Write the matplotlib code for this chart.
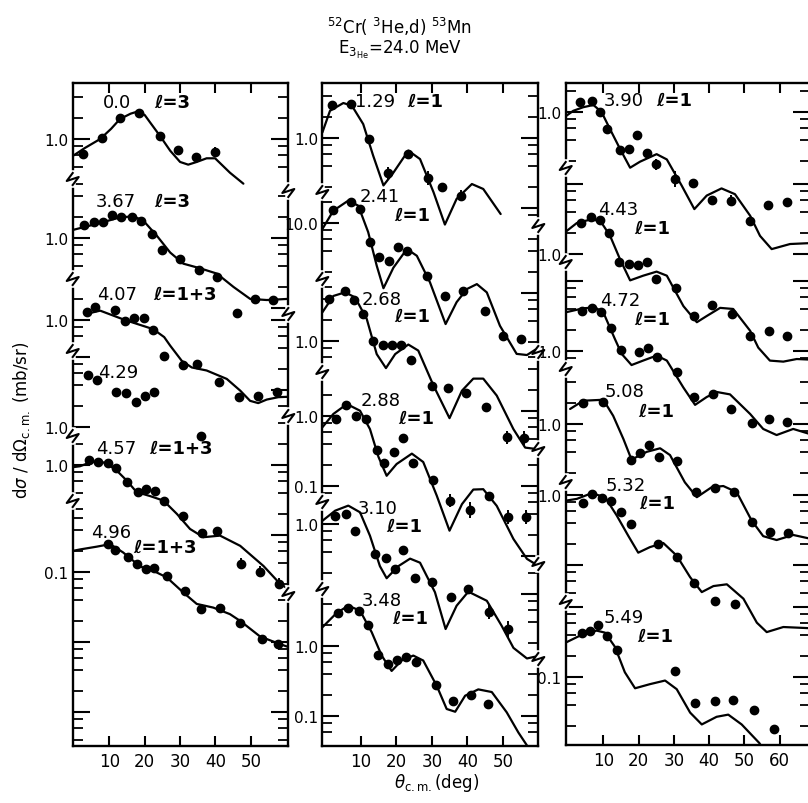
import numpy as np
import matplotlib
matplotlib.use("Agg")
import matplotlib.pyplot as plt
from matplotlib.lines import Line2D
from matplotlib.ticker import NullFormatter

plt.rcParams['font.family'] = ['DejaVu Sans']
plt.rcParams['mathtext.fontset'] = 'dejavusans'

# ------------------------------------------------------------------ data
# left column
e000_x = [2.6, 7.8, 13.0, 18.5, 24.3, 29.3, 34.5, 39.9]
e000_y = [0.61, 1.02, 1.98, 2.33, 1.09, 0.70, 0.55, 0.66]
e000_err = [0.15, 0.12, 0, 0.1, 0, 0.15, 0.15, 0.15]
e000_tx = [-0.4, 3.0, 7.4, 10.5, 13.0, 16.0, 18.2, 20.0, 21.5, 24.3, 27.2, 30.0, 32.3, 34.7, 37.5, 39.9, 44.1, 47.9]
e000_ty = [0.57, 0.74, 1.0, 1.4, 1.93, 2.3, 2.49, 2.2, 1.73, 1.11, 0.68, 0.47, 0.43, 0.47, 0.53, 0.53, 0.33, 0.23]

e367_x = [2.9, 5.7, 8.3, 10.7, 13.3, 16.3, 19.0, 22.0, 24.8, 30.0, 35.4, 40.4, 46.2, 51.2, 56.4]
e367_y = [1.53, 1.71, 1.71, 2.15, 2.02, 2.02, 1.77, 1.14, 0.67, 0.50, 0.35, 0.28, 0.084, 0.135, 0.13]
e367_tx = [-0.4, 7.4, 13.0, 16.8, 19.6, 23.4, 27.2, 30.9, 35.6, 40.4, 45.1, 49.8, 54.5, 60.6]
e367_ty = [1.30, 1.64, 1.97, 2.04, 1.77, 1.08, 0.62, 0.43, 0.37, 0.31, 0.20, 0.135, 0.13, 0.135]

e407_x = [3.8, 5.9, 11.6, 14.4, 17.1, 19.9, 22.3, 25.5, 30.7, 34.7, 41.1, 46.6, 52.1, 57.3]
e407_y = [1.31, 1.55, 1.40, 0.96, 1.06, 1.06, 0.73, 0.31, 0.23, 0.235, 0.13, 0.079, 0.083, 0.095]
e407_tx = [4.3, 7.4, 14.4, 22.4, 25.5, 27.2, 30.5, 33.3, 37.5, 43.2, 47.0, 49.8, 52.1, 54.5, 57.8, 60.6]
e407_ty = [1.25, 1.36, 1.0, 0.74, 0.57, 0.43, 0.26, 0.21, 0.19, 0.144, 0.098, 0.070, 0.065, 0.073, 0.079, 0.08]

e429_x = [4.0, 6.4, 11.9, 14.7, 17.5, 20.1, 22.6, 35.9]
e429_y = [5.5, 4.7, 3.2, 3.1, 2.3, 2.75, 3.2, 0.75]

e457_x = [4.3, 6.9, 9.7, 11.9, 15.1, 18.0, 20.4, 22.9, 25.5, 30.7, 36.1, 40.5, 47.2, 52.6, 58.1]
e457_y = [1.18, 1.09, 1.06, 0.90, 0.58, 0.41, 0.46, 0.42, 0.31, 0.185, 0.107, 0.113, 0.039, 0.030, 0.020]
e457_err = [0, 0, 0, 0, 0, 0, 0, 0, 0, 0, 0, 0, 0.2, 0.2, 0.2]
e457_tx = [-0.4, 1.7, 5.0, 8.3, 11.6, 14.9, 17.7, 21.5, 25.3, 29.1, 32.8, 36.6, 41.3, 47.0, 53.6, 58.3, 60.6]
e457_ty = [0.93, 0.96, 1.11, 1.09, 0.88, 0.60, 0.41, 0.36, 0.31, 0.20, 0.122, 0.093, 0.098, 0.070, 0.036, 0.020, 0.017]

e496_x = [9.7, 11.6, 15.4, 17.7, 20.4, 22.7, 26.2, 31.4, 35.9, 41.3, 47.0, 53.3, 57.8]
e496_y = [0.25, 0.206, 0.166, 0.13, 0.11, 0.113, 0.088, 0.054, 0.030, 0.031, 0.0185, 0.011, 0.0093]
e496_tx = [-0.4, 1.7, 6.4, 10.2, 13.9, 18.7, 22.4, 26.2, 30.9, 34.7, 39.4, 44.1, 47.0, 52.6, 58.3, 60.6]
e496_ty = [0.20, 0.21, 0.23, 0.25, 0.19, 0.12, 0.104, 0.084, 0.051, 0.035, 0.031, 0.025, 0.020, 0.012, 0.0093, 0.0085]

# middle column
e129_x = [1.8, 7.2, 12.4, 17.8, 23.4, 28.9, 33.0, 38.3]
e129_y = [2.96, 3.1, 0.97, 0.316, 0.59, 0.27, 0.20, 0.15]
e129_err = [0, 0, 0, 0.2, 0.15, 0.25, 0, 0.2]
e129_tx = [-0.8, 1.35, 5.1, 7.5, 10.7, 13.5, 16.4, 19.2, 23.4, 26.7, 30.5, 33.7, 37.0, 41.3, 44.5, 49.4]
e129_ty = [1.2, 2.45, 3.16, 2.9, 1.58, 0.56, 0.21, 0.32, 0.66, 0.5, 0.168, 0.058, 0.135, 0.22, 0.187, 0.082]

e241_x = [2.1, 7.2, 9.8, 12.6, 15.2, 18.0, 20.6, 23.1, 28.6, 33.7, 38.9, 45.0, 50.0, 55.1]
e241_y = [15.5, 19.8, 15.8, 5.4, 3.3, 2.9, 4.5, 4.0, 1.77, 0.90, 1.08, 0.55, 0.245, 0.22]
e241_tx = [-0.8, 2.3, 6.5, 9.3, 12.1, 14.5, 16.4, 19.2, 23.0, 25.8, 29.5, 33.9, 37.0, 39.9, 42.7, 45.5, 49.2, 53.9, 56.8, 59.6]
e241_ty = [8.2, 15.0, 20.9, 17.7, 7.4, 2.46, 1.17, 2.3, 4.25, 3.4, 1.42, 0.36, 0.74, 1.14, 1.34, 1.02, 0.34, 0.135, 0.13, 0.16]

e268_x = [1.0, 5.6, 8.1, 10.7, 13.4, 16.2, 18.7, 21.4, 24.2, 30.0, 34.5, 39.7, 45.3, 51.1, 56.1]
e268_y = [4.0, 5.1, 3.8, 2.4, 1.0, 0.88, 0.88, 0.88, 0.54, 0.23, 0.21, 0.18, 0.113, 0.042, 0.041]
e268_err = [0, 0, 0, 0, 0, 0, 0, 0, 0, 0, 0, 0, 0, 0.25, 0.25]
e268_tx = [-0.8, 2.3, 5.6, 8.4, 11.7, 14.5, 17.1, 19.7, 23.4, 26.2, 30.5, 35.0, 38.5, 41.7, 44.5, 48.3, 53.0, 56.3, 58.6]
e268_ty = [2.57, 4.4, 4.96, 4.2, 2.06, 0.65, 0.41, 0.65, 0.89, 0.73, 0.23, 0.079, 0.195, 0.29, 0.29, 0.166, 0.055, 0.030, 0.029]

e288_x = [3.0, 5.8, 8.7, 11.4, 14.5, 16.6, 19.5, 22.0, 24.6, 30.3, 35.2, 40.8, 46.2, 51.6, 56.6]
e288_y = [0.91, 1.44, 1.01, 0.91, 0.33, 0.21, 0.31, 0.48, 0.21, 0.12, 0.062, 0.045, 0.071, 0.036, 0.036]
e288_err = [0, 0, 0, 0, 0, 0, 0, 0, 0, 0, 0.25, 0.3, 0, 0.25, 0.25]
e288_tx = [-0.8, 2.3, 6.1, 9.8, 12.6, 15.0, 17.3, 20.1, 24.4, 27.6, 31.4, 35.0, 38.5, 41.7, 44.5, 48.3, 53.0, 56.8, 59.1]
e288_ty = [0.69, 1.07, 1.48, 1.19, 0.65, 0.26, 0.14, 0.206, 0.29, 0.22, 0.073, 0.023, 0.055, 0.089, 0.09, 0.052, 0.0175, 0.0091, 0.0077]

e310_x = [2.8, 5.8, 8.4, 14.0, 17.1, 19.7, 22.0, 25.3, 30.0, 35.4, 40.3, 46.1, 51.4]
e310_y = [1.31, 1.39, 0.80, 0.37, 0.33, 0.23, 0.42, 0.17, 0.15, 0.09, 0.118, 0.055, 0.032]
e310_err = [0, 0, 0, 0, 0, 0, 0, 0, 0, 0, 0, 0.25, 0.3]
e310_tx = [-0.8, 2.8, 6.5, 9.8, 12.6, 15.4, 17.3, 20.6, 23.9, 26.7, 30.9, 33.9, 37.0, 40.3, 45.5, 49.7, 53.0, 56.8, 60.0]
e310_ty = [1.11, 1.55, 1.83, 1.47, 0.68, 0.25, 0.168, 0.25, 0.32, 0.28, 0.106, 0.0316, 0.068, 0.108, 0.08, 0.035, 0.017, 0.012, 0.013]

e348_x = [3.7, 6.5, 9.6, 12.1, 15.0, 17.8, 20.1, 22.7, 25.5, 31.2, 36.1, 41.1, 45.8]
e348_y = [2.93, 3.49, 3.19, 2.02, 0.75, 0.55, 0.63, 0.69, 0.60, 0.28, 0.166, 0.20, 0.148]
e348_tx = [-0.8, 3.2, 6.5, 9.8, 13.1, 15.9, 18.7, 21.5, 24.8, 27.6, 31.4, 34.2, 36.6, 39.4, 43.1, 46.9, 51.1, 54.4, 56.8, 58.0]
e348_ty = [1.85, 2.96, 3.76, 3.2, 1.57, 0.73, 0.44, 0.62, 0.73, 0.62, 0.27, 0.126, 0.115, 0.195, 0.24, 0.22, 0.113, 0.058, 0.038, 0.030]

# right column
e390_x = [3.4, 6.7, 9.1, 11.1, 14.7, 17.3, 19.6, 22.3, 24.9, 30.3, 35.3, 40.7, 46.2, 51.6, 56.7, 62.0]
e390_y = [1.38, 1.45, 1.0, 0.58, 0.29, 0.30, 0.47, 0.26, 0.18, 0.11, 0.097, 0.055, 0.054, 0.028, 0.047, 0.052]
e390_err = [0, 0, 0, 0, 0, 0, 0, 0, 0.2, 0.3, 0, 0, 0.2, 0, 0.15, 0.15]
e390_tx = [-0.65, 1.5, 4.3, 7.2, 9.5, 11.9, 14.7, 17.6, 20.4, 25.1, 28.0, 32.2, 35.8, 39.3, 43.5, 47.3, 51.6, 54.4, 57.7, 62.9, 68.6]
e390_ty = [0.87, 1.04, 1.17, 1.26, 1.0, 0.57, 0.30, 0.16, 0.195, 0.25, 0.21, 0.089, 0.041, 0.064, 0.081, 0.067, 0.033, 0.017, 0.011, 0.013, 0.0134]

e443_x = [3.6, 6.4, 9.1, 11.7, 14.5, 17.3, 19.7, 22.3, 24.9, 30.6, 35.8, 40.9, 46.4, 51.6, 57.0, 62.1]
e443_y = [2.74, 3.34, 3.06, 2.0, 0.78, 0.72, 0.70, 0.76, 0.44, 0.33, 0.13, 0.187, 0.14, 0.068, 0.08, 0.068]
e443_tx = [-0.65, 2.5, 6.2, 9.1, 11.9, 14.7, 17.6, 21.3, 25.1, 28.0, 32.7, 36.5, 39.3, 43.1, 46.8, 51.6, 53.9, 57.2, 61.0, 64.8, 68.6]
e443_ty = [2.08, 2.77, 3.09, 3.0, 1.83, 0.85, 0.42, 0.49, 0.56, 0.49, 0.18, 0.106, 0.13, 0.17, 0.164, 0.08, 0.046, 0.03, 0.029, 0.0316, 0.031]

e472_x = [4.1, 6.7, 9.3, 12.1, 14.9, 20.1, 22.6, 25.3, 30.8, 35.7, 41.2, 46.2, 52.0, 57.0, 62.1]
e472_y = [3.76, 4.07, 3.57, 2.11, 1.04, 0.96, 1.10, 0.81, 0.50, 0.22, 0.24, 0.15, 0.094, 0.107, 0.096]
e472_tx = [-0.65, 4.3, 7.6, 10.0, 13.3, 15.2, 18.0, 21.3, 25.1, 28.0, 32.7, 36.0, 39.3, 42.1, 45.9, 51.6, 55.3, 59.1, 63.8, 68.6]
e472_ty = [3.57, 4.07, 4.2, 3.57, 1.48, 0.91, 0.63, 0.73, 0.86, 0.73, 0.30, 0.17, 0.22, 0.26, 0.24, 0.126, 0.077, 0.063, 0.077, 0.065]

e508_x = [4.2, 9.8, 17.8, 20.4, 22.9, 25.8, 30.8, 36.2, 41.6, 47.1, 52.0, 57.2, 62.4]
e508_y = [2.0, 2.04, 0.31, 0.38, 0.50, 0.34, 0.30, 0.106, 0.12, 0.106, 0.040, 0.029, 0.028]
e508_tx = [0.6, 4.3, 10.0, 12.8, 15.7, 18.0, 22.3, 26.1, 28.9, 33.1, 36.5, 40.7, 44.0, 47.8, 52.0, 55.3, 59.1, 63.8, 68.6]
e508_ty = [1.64, 2.15, 2.22, 1.31, 0.61, 0.31, 0.40, 0.45, 0.36, 0.147, 0.09, 0.125, 0.13, 0.106, 0.042, 0.025, 0.022, 0.026, 0.023]

e532_x = [4.2, 6.9, 9.5, 12.2, 15.0, 17.8, 25.6, 31.0, 35.8, 41.6, 47.3]
e532_y = [0.77, 1.03, 0.90, 0.83, 0.57, 0.39, 0.20, 0.128, 0.056, 0.031, 0.028]
e532_tx = [-0.65, 2.5, 6.7, 10.5, 13.8, 17.1, 19.9, 23.2, 27.0, 30.8, 34.6, 37.9, 41.2, 45.0, 49.7, 53.5, 56.3, 61.0, 68.6]
e532_ty = [0.83, 0.88, 1.06, 0.93, 0.51, 0.26, 0.15, 0.18, 0.206, 0.136, 0.067, 0.041, 0.05, 0.053, 0.033, 0.015, 0.011, 0.013, 0.0125]

e549_x = [3.9, 6.2, 8.6, 11.0, 14.0, 30.3, 36.0, 41.6, 46.8, 52.7, 58.4]
e549_y = [0.42, 0.45, 0.55, 0.38, 0.245, 0.123, 0.042, 0.046, 0.047, 0.034, 0.018]
e549_tx = [-0.65, 3.4, 8.1, 10.5, 13.3, 16.1, 19.0, 23.2, 27.5, 30.8, 34.6, 37.9, 42.1, 45.4, 49.2, 54.2, 55.5]
e549_ty = [0.31, 0.39, 0.46, 0.43, 0.27, 0.117, 0.069, 0.079, 0.089, 0.067, 0.031, 0.021, 0.027, 0.029, 0.021, 0.0114, 0.009]

x_ticks_lr = [10, 20, 30, 40, 50]
x_ticks_r = [10, 20, 30, 40, 50, 60]

# ------------------------------------------------------------------ layout
W, H = 808, 804
DEC = 70.0  # pixels per decade

panels = [
    dict(x0=72.7, x1=288.3, top=84, bot=747, xlim=(-0.37, 60.6), xt=x_ticks_lr),
    dict(x0=322.3, x1=538.3, top=84, bot=747, xlim=(-0.82, 60.0), xt=x_ticks_lr),
    dict(x0=565.7, x1=810.0, top=84, bot=746, xlim=(-0.65, 68.56), xt=x_ticks_r),
]

def C(panel, name, ell, x, y, tx, ty, err, ref, rpx, bl, br, labs, npos, epos):
    return dict(panel=panel, name=name, ell=ell, x=x, y=y, tx=tx, ty=ty, err=err,
                ref=ref, rpx=rpx, bl=bl, br=br, labs=labs, npos=npos, epos=epos)

curves = [
    C(0, "0.0", "ℓ=3", e000_x, e000_y, e000_tx, e000_ty, e000_err, 1.0, 140, (84, 180), (84, 192), [1.0], (117, 103), (172, 103)),
    C(0, "3.67", "ℓ=3", e367_x, e367_y, e367_tx, e367_ty, None, 1.0, 239, (180, 280), (192, 315), [1.0], (116, 202), (172, 202)),
    C(0, "4.07", "ℓ=1+3", e407_x, e407_y, e407_tx, e407_ty, None, 1.0, 321, (280, 352), (315, 417), [1.0], (117, 295), (185, 295)),
    C(0, "4.29", None, e429_x, e429_y, None, None, None, 1.0, 428, (352, 437), None, [1.0], (118, 373), None),
    C(0, "4.57", "ℓ=1+3", e457_x, e457_y, e457_tx, e457_ty, e457_err, 1.0, 466, (437, 502), (417, 595), [1.0], (116, 449), (181, 449)),
    C(0, "4.96", "ℓ=1+3", e496_x, e496_y, e496_tx, e496_ty, None, 0.1, 573, (502, 747), (595, 747), [0.1], (111, 533), (165, 548)),
    C(1, "1.29", "ℓ=1", e129_x, e129_y, e129_tx, e129_ty, e129_err, 1.0, 139, (84, 193), (84, 227), [1.0], (375, 102), (425, 102)),
    C(1, "2.41", "ℓ=1", e241_x, e241_y, e241_tx, e241_ty, None, 10.0, 224, (193, 280), (227, 353), [10.0], (380, 197), (412, 216)),
    C(1, "2.68", "ℓ=1", e268_x, e268_y, e268_tx, e268_ty, e268_err, 1.0, 342, (280, 373), (353, 450), [1.0], (382, 300), (412, 317)),
    C(1, "2.88", "ℓ=1", e288_x, e288_y, e288_tx, e288_ty, e288_err, 1.0, 417, (373, 503), (450, 565), [1.0, 0.1], (381, 401), (416, 419)),
    C(1, "3.10", "ℓ=1", e310_x, e310_y, e310_tx, e310_ty, e310_err, 1.0, 525, (503, 590), (565, 660), [1.0], (378, 509), (404, 527)),
    C(1, "3.48", "ℓ=1", e348_x, e348_y, e348_tx, e348_ty, None, 1.0, 647, (590, 747), (660, 747), [1.0, 0.1], (382, 601), (410, 619)),
    C(2, "3.90", "ℓ=1", e390_x, e390_y, e390_tx, e390_ty, e390_err, 1.0, 113, (84, 169), (84, 169), [1.0], (624, 101), (674, 101)),
    C(2, "4.43", "ℓ=1", e443_x, e443_y, e443_tx, e443_ty, None, 1.0, 255, (169, 263), (169, 263), [1.0], (618, 210), (652, 229)),
    C(2, "4.72", "ℓ=1", e472_x, e472_y, e472_tx, e472_ty, None, 1.0, 352, (263, 370), (263, 370), [1.0], (620, 301), (652, 320)),
    C(2, "5.08", "ℓ=1", e508_x, e508_y, e508_tx, e508_ty, None, 1.0, 425, (370, 483), (370, 483), [1.0], (624, 392), (656, 412)),
    C(2, "5.32", "ℓ=1", e532_x, e532_y, e532_tx, e532_ty, None, 1.0, 496, (483, 603), (483, 603), [1.0], (626, 486), (657, 504)),
    C(2, "5.49", "ℓ=1", e549_x, e549_y, e549_tx, e549_ty, None, 0.1, 678, (603, 746), (603, 746), [0.1], (624, 618), (655, 637)),
]

LW = 1.5
fig = plt.figure(figsize=(W / 100, H / 100), dpi=100)
fig.patch.set_facecolor('white')


def fx(px):
    return px / W


def fy(py):
    return 1 - py / H


def rect(p):
    return [fx(p['x0']), fy(p['bot']), (p['x1'] - p['x0']) / W, (p['bot'] - p['top']) / H]


def band_ticks(ref, rpx, band, margin=4):
    lo = ref * 10 ** ((rpx - (band[1] - margin)) / DEC)
    hi = ref * 10 ** ((rpx - (band[0] + margin)) / DEC)
    majors = [10.0 ** k for k in range(-4, 3) if lo <= 10.0 ** k <= hi]
    minors = [m * 10.0 ** k for k in range(-4, 3) for m in (2, 4, 6, 8)
              if lo <= m * 10.0 ** k <= hi]
    return majors, minors


def fmt(v):
    return {10.0: "10.0", 1.0: "1.0", 0.1: "0.1"}.get(v, "")


# frames
frames = []
for p in panels:
    fr = fig.add_axes(rect(p))
    fr.set_xlim(p['xlim'])
    fr.set_ylim(0, 1)
    fr.set_yticks([])
    fr.set_xticks(p['xt'])
    fr.set_xticklabels([str(t) for t in p['xt']])
    fr.tick_params(axis='x', direction='in', length=7, width=LW, top=True,
                   labelsize=12, pad=4)
    for s in fr.spines.values():
        s.set_linewidth(1.7)
    frames.append(fr)

# curves
for c in curves:
    p = panels[c['panel']]
    ax = fig.add_axes(rect(p))
    ax.set_xlim(p['xlim'])
    ax.set_yscale('log')
    ytop = c['ref'] * 10 ** ((c['rpx'] - p['top']) / DEC)
    ybot = c['ref'] * 10 ** ((c['rpx'] - p['bot']) / DEC)
    ax.set_ylim(ybot, ytop)
    ax.patch.set_visible(False)
    for s in ax.spines.values():
        s.set_visible(False)
    ax.xaxis.set_visible(False)

    maj, mnr = band_ticks(c['ref'], c['rpx'], c['bl'])
    ax.set_yticks(maj, labels=[fmt(v) if v in c['labs'] else "" for v in maj])
    ax.set_yticks(mnr, minor=True)
    ax.yaxis.set_minor_formatter(NullFormatter())
    ax.tick_params(axis='y', which='major', direction='in', length=12, width=LW,
                   labelsize=11, pad=3, left=True, right=False)
    ax.tick_params(axis='y', which='minor', direction='in', length=7, width=1.3,
                   left=True, right=False)

    if c['br'] is not None:
        tw = ax.twinx()
        tw.set_yscale('log')
        tw.set_ylim(ybot, ytop)
        tw.patch.set_visible(False)
        for s in tw.spines.values():
            s.set_visible(False)
        maj, mnr = band_ticks(c['ref'], c['rpx'], c['br'])
        tw.set_yticks(maj, labels=["" for v in maj])
        tw.set_yticks(mnr, minor=True)
        tw.yaxis.set_minor_formatter(NullFormatter())
        tw.tick_params(axis='y', which='major', direction='in', length=12, width=LW)
        tw.tick_params(axis='y', which='minor', direction='in', length=7, width=1.3)

    if c['tx'] is not None:
        ax.plot(c['tx'], c['ty'], color='black', lw=1.6, solid_joinstyle='round',
                solid_capstyle='round')
    x = np.array(c['x'])
    y = np.array(c['y'])
    if c['err'] is not None:
        e = np.array(c['err'])
        yerr = np.vstack([y * e / (1 + e), y * e])
        ax.errorbar(x, y, yerr=yerr, fmt='none', ecolor='black', elinewidth=1.4,
                    capsize=0, clip_on=False)
    ax.plot(x, y, 'o', color='black', ms=6.0, clip_on=False)

    fig.text(fx(c['npos'][0]), fy(c['npos'][1]), c['name'], ha='center', va='center',
             fontsize=13)
    if c['ell'] is not None:
        fig.text(fx(c['epos'][0]), fy(c['epos'][1]), c['ell'], ha='center', va='center',
                 fontsize=13, fontweight='bold')

# axis breaks (zig-zags) on the spines
def zig(xp, yp):
    fig.add_artist(Line2D([fx(xp), fx(xp)], [fy(yp - 6), fy(yp + 6)],
                          transform=fig.transFigure, color='white', lw=4, zorder=5))
    fig.add_artist(Line2D([fx(xp), fx(xp - 6), fx(xp + 6), fx(xp)],
                          [fy(yp - 6), fy(yp + 2), fy(yp - 2), fy(yp + 6)],
                          transform=fig.transFigure, color='black', lw=1.5, zorder=6))

for c in curves:
    p = panels[c['panel']]
    if c['bl'][0] > p['top']:
        zig(p['x0'], c['bl'][0])
    if c['br'] is not None and c['br'][0] > p['top'] and p['x1'] < W:
        zig(p['x1'], c['br'][0])

# titles and axis labels
fig.text(fx(400), fy(27), r"$^{52}$Cr( $^{3}$He,d) $^{53}$Mn", ha='center', va='center',
         fontsize=12)
fig.text(fx(400), fy(50), r"E$_{3_{\mathrm{He}}}$=24.0 MeV", ha='center', va='center',
         fontsize=12)
fig.text(fx(437), fy(783), r"$\theta_{\mathrm{c.m.}}$(deg)", ha='center', va='center',
         fontsize=12)
fig.text(fx(22), fy(420), r"d$\sigma$ / d$\Omega_{\mathrm{c.m.}}$ (mb/sr)", ha='center',
         va='center', rotation=90, fontsize=12)

fig.savefig("out.png", dpi=100, facecolor='white')
